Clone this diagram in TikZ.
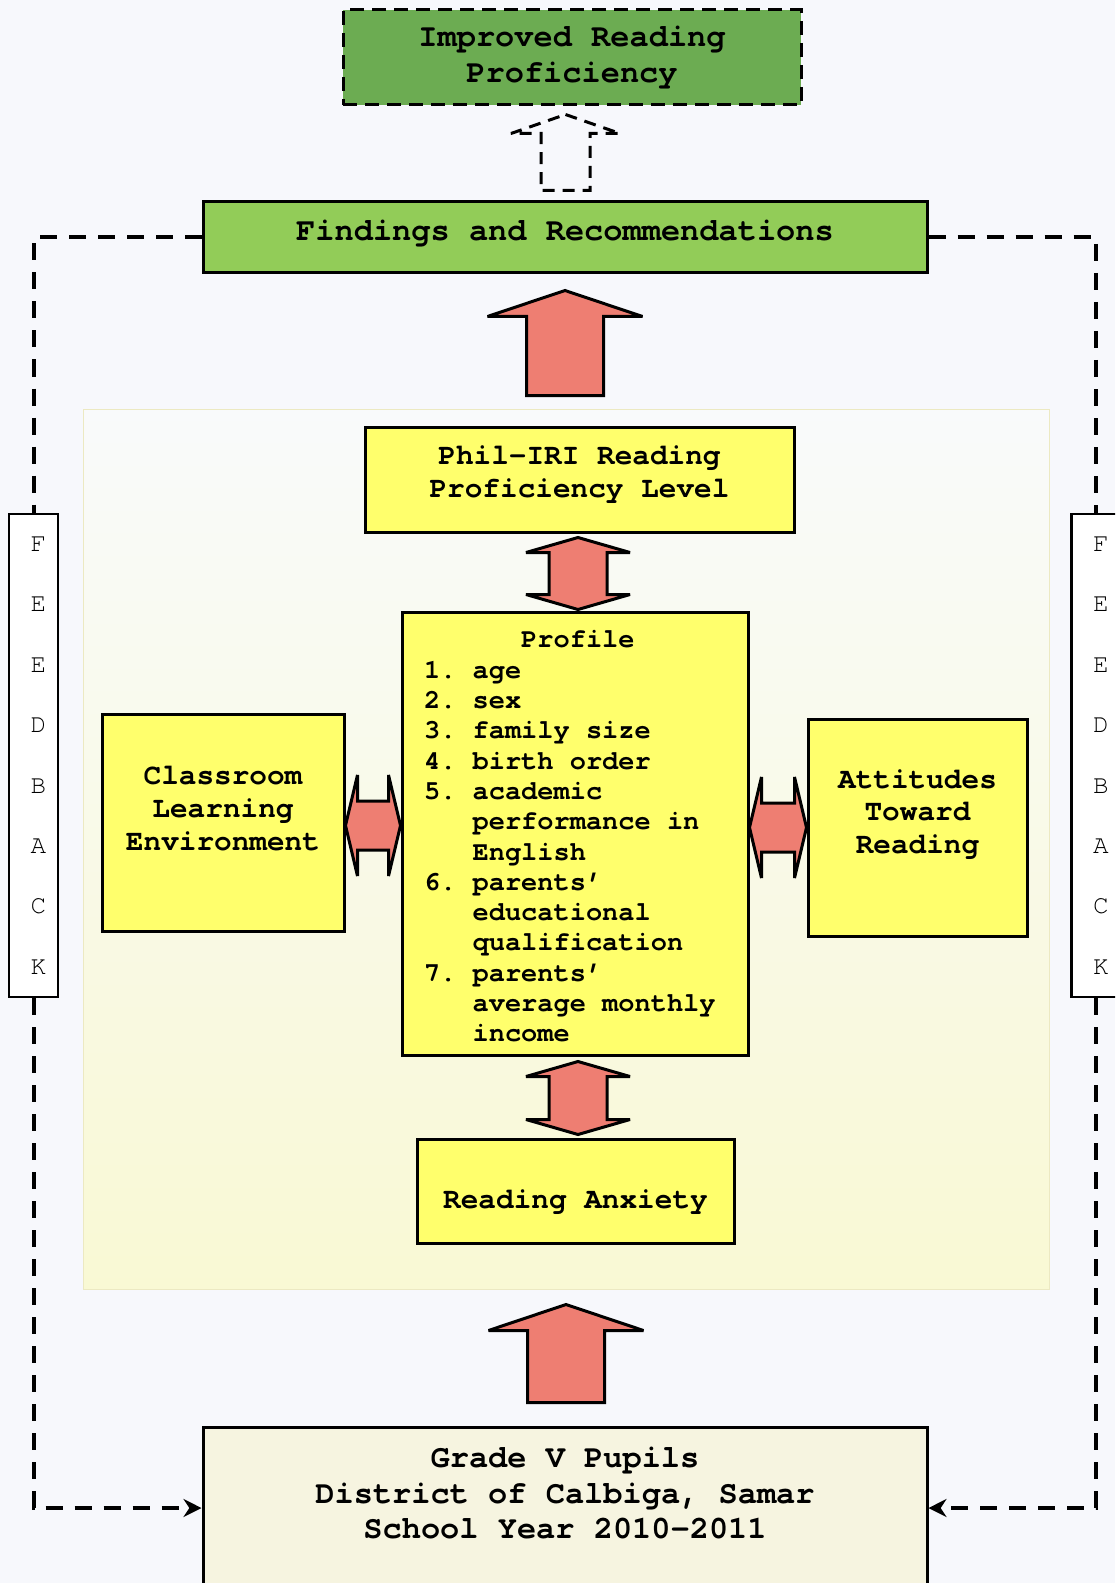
\documentclass[tikz,border=0pt]{standalone}
\usepackage{fontspec}
\setmainfont{TeX Gyre Cursor}[Ligatures=NoCommon]
\usepackage{xcolor}
\usetikzlibrary{arrows.meta,calc,positioning}
\definecolor{pagebg}{RGB}{247,248,252}
\definecolor{goalgreen}{RGB}{108,172,82}
\definecolor{findgreen}{RGB}{146,204,88}
\definecolor{boxyellow}{RGB}{255,255,108}
\definecolor{arrowred}{RGB}{238,126,114}
\definecolor{gradebeige}{RGB}{246,244,224}
\definecolor{bgtop}{RGB}{249,250,251}
\definecolor{bgbot}{RGB}{249,249,212}
\newcommand{\goalfont}{\fontsize{16}{17.7}\selectfont\bfseries}
\newcommand{\boxfont}{\fontsize{14.7}{16.4}\selectfont\bfseries}
\newcommand{\listfont}{\fontsize{13.5}{15.15}\selectfont\bfseries}
\newcommand{\fbfont}{\fontsize{13}{30.2}\selectfont}
\newcommand{\lift}[2]{\raisebox{0pt}[\height][\dimexpr\depth+#1\relax]{#2}}
\newcommand{\drop}[2]{\raisebox{0pt}[\dimexpr\height+#1\relax][\depth]{#2}}
\newcommand{\fbletters}{\hspace*{5pt}F\\\hspace*{5pt}E\\\hspace*{5pt}E\\\hspace*{5pt}D\\\hspace*{5pt}B\\\hspace*{5pt}A\\\hspace*{5pt}C\\\hspace*{5pt}K}
\frenchspacing
% block arrows: style, from, to, shaft half, head half, head length
\newcommand{\blockup}[6]{%
  \path[#1] let \p1=(#2), \p2=(#3) in
    (\x2,\y2) -- ({\x2+#5},{\y2-#6}) -- ({\x2+#4},{\y2-#6}) -- ({\x2+#4},\y1)
    -- ({\x2-#4},\y1) -- ({\x2-#4},{\y2-#6}) -- ({\x2-#5},{\y2-#6}) -- cycle;}
\newcommand{\blockvv}[6]{%
  \path[#1] let \p1=(#2), \p2=(#3) in
    (\x1,\y1) -- ({\x1+#5},{\y1-#6}) -- ({\x1+#4},{\y1-#6}) -- ({\x1+#4},{\y2+#6})
    -- ({\x1+#5},{\y2+#6}) -- (\x1,\y2) -- ({\x1-#5},{\y2+#6}) -- ({\x1-#4},{\y2+#6})
    -- ({\x1-#4},{\y1-#6}) -- ({\x1-#5},{\y1-#6}) -- cycle;}
\newcommand{\blockhh}[6]{%
  \path[#1] let \p1=(#2), \p2=(#3) in
    (\x1,\y1) -- ({\x1+#6},{\y1+#5}) -- ({\x1+#6},{\y1+#4}) -- ({\x2-#6},{\y1+#4})
    -- ({\x2-#6},{\y1+#5}) -- (\x2,\y1) -- ({\x2-#6},{\y1-#5}) -- ({\x2-#6},{\y1-#4})
    -- ({\x1+#6},{\y1-#4}) -- ({\x1+#6},{\y1-#5}) -- cycle;}

\begin{document}
\begin{tikzpicture}[x=0.5pt,y=-0.5pt,
  box/.style={draw,line width=1.5pt,inner sep=0pt,align=center,font=\boxfont,fill=boxyellow},
  goal/.style={draw,line width=1.5pt,dash pattern=on 7pt off 4pt,inner sep=0pt,align=center,font=\goalfont,fill=goalgreen},
  fbbox/.style={draw,line width=1.2pt,fill=white,inner sep=0pt,align=center,font=\fbfont,minimum width=24.5pt,minimum height=241.5pt},
  fat/.style={draw=black,line width=1.5pt,fill=arrowred,line join=miter,miter limit=2},
  hollow/.style={draw=black,line width=1.5pt,dash pattern=on 6pt off 4pt,miter limit=2},
  fb/.style={line width=2pt,dash pattern=on 8.5pt off 6pt,-{Stealth[length=9pt,width=9pt]}},
  fbline/.style={line width=2pt,dash pattern=on 8.5pt off 6pt}
]
\clip (0,0) rectangle (1115,1583);
\fill[pagebg] (0,0) rectangle (1115,1583);

\node[draw=yellow!50!gray!35,line width=0.5pt,top color=bgtop,bottom color=bgbot,minimum width=483pt,minimum height=440pt,inner sep=0pt] (bg) at (566,849) {};

\node[goal,minimum width=229pt,minimum height=47.5pt] (imp) at (572,57.5) {Improved Reading\\Proficiency};
\node[box,fill=findgreen,font=\goalfont,minimum width=362pt,minimum height=35.5pt] (find) at (565,237.5) {\lift{4pt}{Findings and Recommendations}};

\node[box,minimum width=214.5pt,minimum height=52.5pt] (phil) at (579.5,479.5) {Phil-IRI Reading\\\lift{5pt}{Proficiency Level}};
\node[box,font=\listfont,align=left,text width=151pt,inner xsep=11pt,minimum height=221.5pt] (prof) at (575,833.5) {%
\spaceskip=0.6em\relax
\drop{3pt}{\hphantom{000000}Profile}\\
1. age\\
2. sex\\
3. family size\\
4. birth order\\
5. academic\\
\hphantom{000}performance in\\
\hphantom{000}English\\
6. parents’\\
\hphantom{000}educational\\
\hphantom{000}qualification\\
7. parents’\\
\hphantom{000}average monthly\\
\hphantom{000}income};
\node[box,minimum width=121pt,minimum height=108.5pt] (class) at (223,822.5) {Classroom\\Learning\\\lift{14pt}{Environment}};
\node[box,minimum width=109.5pt,minimum height=108.5pt] (att) at (917.5,827.5) {Attitudes\\Toward\\\lift{13pt}{Reading}};
\node[box,minimum width=158.5pt,minimum height=52pt] (anx) at (575.5,1191) {\drop{11pt}{Reading Anxiety}};

\node[box,fill=gradebeige,minimum width=362pt,minimum height=81pt] (grade) at (565,1508) {};
\node[font=\goalfont,align=center,inner sep=0pt] (gradetxt) at (565,1493) {Grade V Pupils\\District of Calbiga, Samar\\School Year 2010-2011};

\node[fbbox] (fbl) at (33.5,755.5) {\fbletters};
\node[fbbox] (fbr) at (1096,755.5) {\fbletters};

% arrows between the boxes
\blockup{hollow}{$(find.north)+(-0.5,-10)$}{$(imp.south)+(-6.5,8)$}{12.25pt}{27.25pt}{9.5pt}
\blockup{fat}{$(bg.north)+(0,-13)$}{$(find.south)+(0,16)$}{19.25pt}{38.75pt}{13pt}
\blockup{fat}{$(grade.north)+(0,-23)$}{$(bg.south)+(0,15)$}{19.25pt}{38.75pt}{13pt}
\blockvv{fat}{$(phil.south)+(-1.5,4)$}{$(prof.north)+(3,-1)$}{14.5pt}{26pt}{7.5pt}
\blockvv{fat}{$(prof.south)+(3,5)$}{$(anx.north)+(2.5,-3)$}{14.5pt}{26pt}{7.5pt}
\blockhh{fat}{$(class.east)+(0,3)$}{prof.west}{12.25pt}{25.25pt}{6pt}
\blockhh{fat}{prof.east |- att.west}{att.west}{12.25pt}{25.25pt}{6pt}

% feedback loop
\draw[fbline] (find.west) -| (fbl.north);
\draw[fbline] (find.east) -| (fbr.north);
\draw[fb] (fbl.south) |- (grade.west);
\draw[fb] (fbr.south) |- (grade.east);
\end{tikzpicture}
\end{document}
